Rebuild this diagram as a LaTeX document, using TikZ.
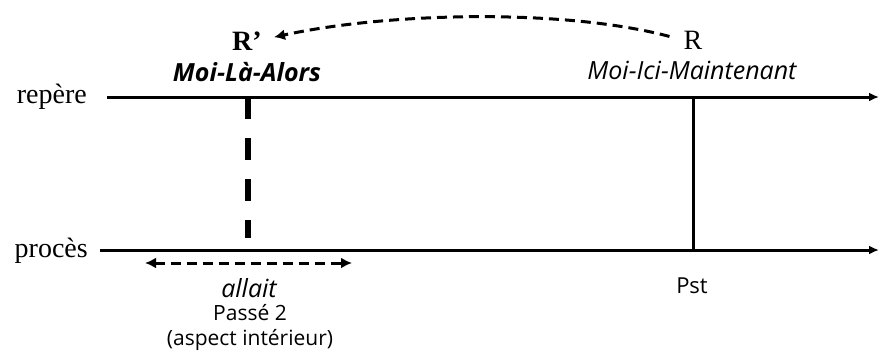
\documentclass[tikz,border=0pt]{standalone}
\usepackage{fontspec}
\setmainfont{Liberation Serif}
\newfontfamily\opensans{Open Sans}
\usetikzlibrary{positioning,arrows.meta}
\newcommand{\txtserif}{\fontsize{28}{32}\selectfont}
\newcommand{\txtsans}{\opensans\fontsize{21}{25}\selectfont}
\newcommand{\txtital}{\opensans\fontsize{25}{29}\selectfont\itshape}
\tikzset{
  pointe/.tip  ={Latex[length=11pt,width=11pt]},
  axe/.style   ={-{Latex[length=10pt,width=9pt]},line width=3pt},
  lbl/.style   ={font=\txtserif,inner sep=0pt,anchor=base},
  slbl/.style  ={font=\txtsans,inner sep=0pt,anchor=base},
  ilbl/.style  ={font=\txtital,inner sep=0pt,anchor=base},
  tiret/.style ={line width=3pt,dash pattern=on 10pt off 6pt},
  repere/.style={line width=5.5pt,dash pattern=on 22pt off 19pt},
}

\begin{document}
\begin{tikzpicture}[x=1pt,y=-1pt]
\useasboundingbox (0,0) rectangle (879,364);
% axes
\coordinate (rep0) at (107,97); \coordinate (rep1) at (879,97);
\coordinate (pro0) at (100,250); \coordinate (pro1) at (879,250);
\draw[axe] (rep0)--(rep1);
\draw[axe] (pro0)--(pro1);
\node[lbl,anchor=base east] (rep) at (87,103) {repère};
\node[lbl,anchor=base east] (pro) at (88,257) {procès};
% R' et R
\coordinate (rp0) at (248,97); \coordinate (rp1) at (248,238);
\coordinate (r0) at (693,97); \coordinate (r1) at (693,250);
\draw[repere] (rp0)--(rp1);
\draw[line width=3pt] (r0)--(r1);
\node[lbl,font=\txtserif\bfseries] (Rp) at (247,50) {R’};
\node[ilbl,font=\txtital\bfseries] (mla) at (247,81) {Moi-Là-Alors};
\node[lbl] (R) at (693,49) {R};
\node[ilbl] (mim) at (692,79) {Moi-Ici-Maintenant};
\draw[tiret,-pointe] ([xshift=-14pt,yshift=-6pt]R.north west)
  .. controls +(-105,-28) and +(115,-25) .. ([xshift=12pt,yshift=-6pt]Rp.north east);
% allait
\coordinate (al0) at (145,263); \coordinate (al1) at (352,263);
\draw[tiret,pointe-pointe] (al0)--(al1);
\node[ilbl] (all) at (249,297) {allait};
\node[slbl] (ps2) at (250,320) {Passé 2};
\node[slbl] (asp) at (250,345) {(aspect intérieur)};
\node[slbl,font=\opensans\fontsize{22}{26}\selectfont] (pst) at (692,293) {Pst};
\end{tikzpicture}
\end{document}
